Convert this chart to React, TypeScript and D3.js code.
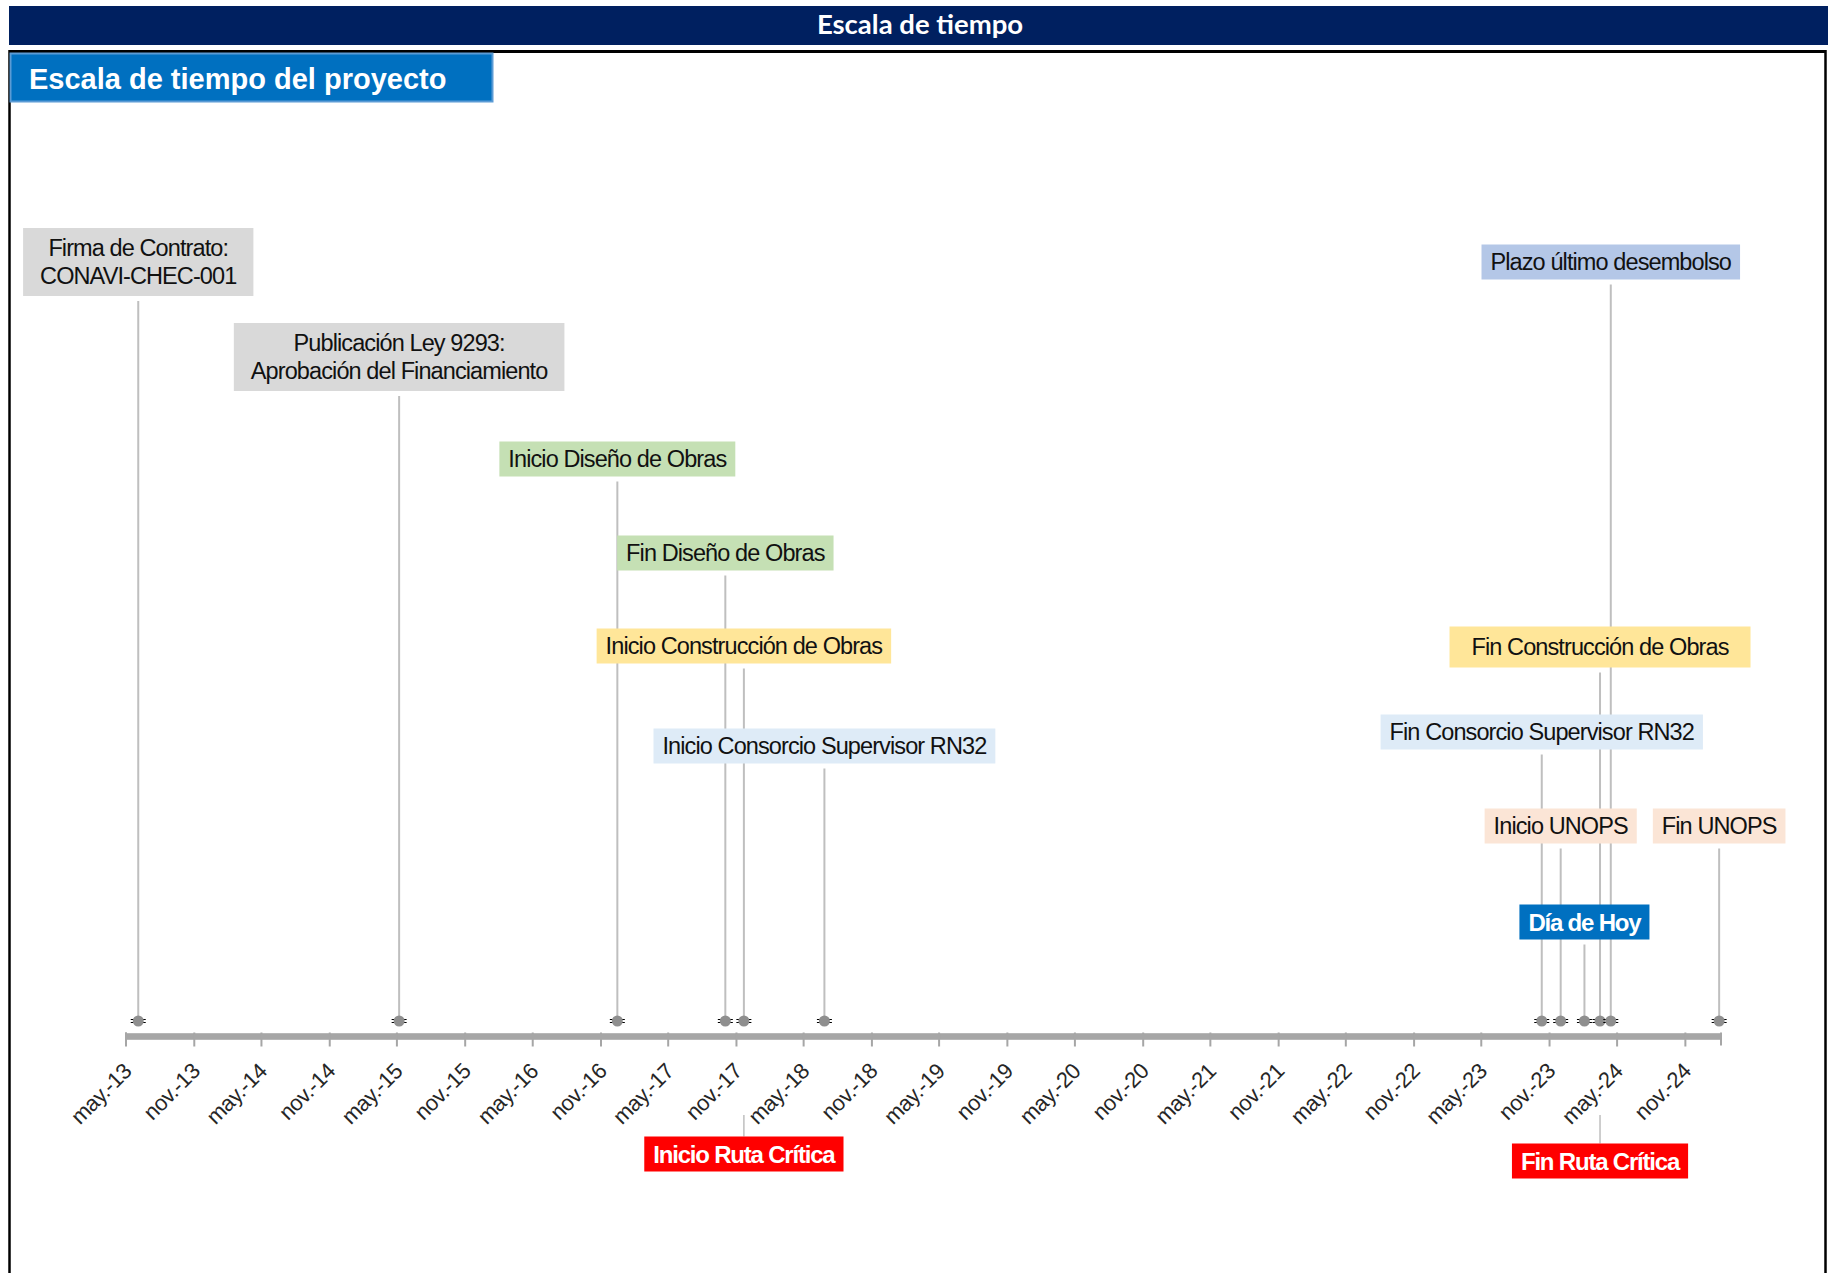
import React from "react";
import * as d3 from "d3";

const W = 1828;
const H = 1273;

// ---- data ----
const eventLabels: string[][] = [
  ["Firma de Contrato:", "CONAVI-CHEC-001"],
  ["Publicación Ley 9293:", "Aprobación del Financiamiento"],
  ["Inicio Diseño de Obras"],
  ["Fin Diseño de Obras"],
  ["Inicio Construcción de Obras"],
  ["Inicio Consorcio Supervisor RN32"],
  ["Fin Consorcio Supervisor RN32"],
  ["Inicio UNOPS"],
  ["Día de Hoy"],
  ["Fin Construcción de Obras"],
  ["Plazo último desembolso"],
  ["Fin UNOPS"],
  ["Inicio Ruta Crítica"],
  ["Fin Ruta Crítica"],
];
const eventDates: string[] = [
  "2013-06-03",
  "2015-05-07",
  "2016-12-15",
  "2017-10-02",
  "2017-11-21",
  "2018-06-26",
  "2023-10-11",
  "2023-12-01",
  "2024-02-03",
  "2024-03-16",
  "2024-04-14",
  "2025-01-31",
  "2017-11-21",
  "2024-03-16",
];
const eventHeights: number[] = [75.9, 66.4, 56.2, 46.8, 37.5, 27.5, 28.9, 19.5, 9.9, 37.4, 75.9, 19.5, -13.3, -14];
const eventGroups: string[] = [
  "hito", "hito", "diseno", "diseno", "construccion", "supervision", "supervision",
  "unops", "hoy", "construccion", "desembolso", "unops", "ruta", "ruta",
];
const tickLabels: string[] = [
  "may.-13", "nov.-13", "may.-14", "nov.-14", "may.-15", "nov.-15", "may.-16", "nov.-16",
  "may.-17", "nov.-17", "may.-18", "nov.-18", "may.-19", "nov.-19", "may.-20", "nov.-20",
  "may.-21", "nov.-21", "may.-22", "nov.-22", "may.-23", "nov.-23", "may.-24", "nov.-24",
];
const axisStart = "2013-05-01";
const axisEnd = "2025-02-05";

// ---- styles ----
const groupStyle: Record<string, { fill: string; color: string; bold: boolean }> = {
  hito: { fill: "#D9D9D9", color: "#111", bold: false },
  diseno: { fill: "#C5E0B4", color: "#111", bold: false },
  construccion: { fill: "#FFE699", color: "#111", bold: false },
  supervision: { fill: "#DEEBF7", color: "#111", bold: false },
  unops: { fill: "#FBE5D6", color: "#111", bold: false },
  desembolso: { fill: "#B4C7E7", color: "#111", bold: false },
  hoy: { fill: "#0070C0", color: "#fff", bold: true },
  ruta: { fill: "#FF0000", color: "#fff", bold: true },
};

const parse = d3.timeParse("%Y-%m-%d");

let _ctx: CanvasRenderingContext2D | null = null;
function measure(text: string, font: string, ls: number) {
  if (!_ctx) _ctx = document.createElement("canvas").getContext("2d");
  if (!_ctx) return text.length * 11;
  _ctx.font = font;
  return _ctx.measureText(text).width + ls * text.length;
}

export default function App() {
  const axisY = 1036.5;
  const markerY = 1021;
  const x = d3
    .scaleTime()
    .domain([parse(axisStart)!, parse(axisEnd)!])
    .range([126, 1721]);
  const y = d3.scaleLinear().domain([0, 10]).range([markerY, markerY - 100]);

  const tickDates = d3.timeMonth.range(parse("2013-05-01")!, parse("2024-11-02")!, 6);

  const fontFamily = "'Liberation Sans', Arial, sans-serif";

  const events = eventLabels.map((lines, i) => {
    const g = groupStyle[eventGroups[i]];
    const fs = g.bold ? 24 : 23.5;
    const ls = g.bold ? -1.2 : -0.9;
    const font = `${g.bold ? "bold " : ""}${fs}px 'Liberation Sans'`;
    const tw = Math.max(...lines.map((l) => measure(l, font, ls)));
    const isWide = eventLabels[i][0] === "Fin Construcción de Obras";
    const padX = isWide ? 22 : lines.length > 1 ? 17 : 9;
    const bw = tw + padX * 2;
    const bh = lines.length > 1 ? 68 : isWide ? 41 : 35;
    const cx = x(parse(eventDates[i])!);
    const cy = y(eventHeights[i]);
    return { lines, g, fs, ls, bw, bh, cx, cy, h: eventHeights[i] };
  });

  return (
    <svg
      width={W}
      height={H}
      style={{ position: "absolute", left: 0, top: 0, background: "#fff" }}
      fontFamily={fontFamily}
    >
      {/* header */}
      <rect x={9} y={6} width={W - 9} height={39} fill="#002060" />
      <text
        x={920}
        y={34}
        textAnchor="middle"
        fill="#fff"
        fontFamily="Lato, 'Open Sans', sans-serif"
        fontWeight="bold"
        fontSize={27.5}
      >
        Escala de tiempo
      </text>

      {/* chart frame */}
      <line x1={9} x2={1826} y1={51.5} y2={51.5} stroke="#000" strokeWidth={3} />
      <line x1={9.5} x2={9.5} y1={50} y2={H} stroke="#000" strokeWidth={2.5} />
      <line x1={1825.5} x2={1825.5} y1={50} y2={H} stroke="#000" strokeWidth={2.5} />

      {/* title box */}
      <rect x={10.5} y={53.5} width={482} height={48} fill="#0070C0" stroke="#5B9BD5" strokeWidth={2} />
      <text x={29} y={89} fill="#fff" fontWeight="bold" fontSize={29}>
        Escala de tiempo del proyecto
      </text>

      {/* stems */}
      {events.map((e, i) => {
        if (e.h >= 0) {
          const top = e.cy + e.bh / 2 + 5;
          return (
            <line key={"s" + i} x1={e.cx} x2={e.cx} y1={top} y2={markerY} stroke="#BFBFBF" strokeWidth={2} />
          );
        }
        const boxTop = e.cy - e.bh / 2;
        return (
          <g key={"s" + i}>
            <line x1={e.cx} x2={e.cx} y1={axisY} y2={y(-1.8)} stroke="#BFBFBF" strokeWidth={1.5} />
            <line x1={e.cx} x2={e.cx} y1={y(-9.4)} y2={boxTop} stroke="#BFBFBF" strokeWidth={1.5} />
          </g>
        );
      })}

      {/* axis */}
      <rect x={x.range()[0]} y={axisY - 3.3} width={x.range()[1] - x.range()[0]} height={6.6} fill="#A6A6A6" />
      {[x.range()[0], x.range()[1]].map((v, i) => (
        <line key={"cap" + i} x1={v} x2={v} y1={axisY - 4} y2={axisY + 9} stroke="#A6A6A6" strokeWidth={2} />
      ))}
      {tickDates.map((d, i) => (
        <g key={"t" + i}>
          <line x1={x(d)} x2={x(d)} y1={axisY - 4} y2={axisY + 10} stroke="#A6A6A6" strokeWidth={2} />
          <text
            transform={`translate(${x(d) + 7},${axisY + 36}) rotate(-45)`}
            textAnchor="end"
            fontSize={22}
            letterSpacing={-0.4}
            fill="#262626"
          >
            {tickLabels[i]}
          </text>
        </g>
      ))}

      {/* markers */}
      {events
        .filter((e) => e.h >= 0)
        .map((e, i) => (
          <g key={"m" + i}>
            <line x1={e.cx - 7.5} x2={e.cx - 3} y1={markerY - 1.5} y2={markerY - 1.5} stroke="#000" strokeWidth={1} />
            <line x1={e.cx - 7.5} x2={e.cx - 3} y1={markerY + 1.5} y2={markerY + 1.5} stroke="#000" strokeWidth={1} />
            <line x1={e.cx + 3} x2={e.cx + 7.5} y1={markerY - 1.5} y2={markerY - 1.5} stroke="#000" strokeWidth={1} />
            <line x1={e.cx + 3} x2={e.cx + 7.5} y1={markerY + 1.5} y2={markerY + 1.5} stroke="#000" strokeWidth={1} />
            <circle cx={e.cx} cy={markerY} r={5.5} fill="#8F8F8F" />
          </g>
        ))}

      {/* label boxes */}
      {events.map((e, i) => {
        const lh = 28;
        const n = e.lines.length;
        return (
          <g key={"b" + i}>
            <rect x={e.cx - e.bw / 2} y={e.cy - e.bh / 2} width={e.bw} height={e.bh} fill={e.g.fill} />
            {e.lines.map((l, j) => (
              <text
                key={j}
                x={e.cx}
                y={e.cy + (j - (n - 1) / 2) * lh}
                dy="0.36em"
                textAnchor="middle"
                fontSize={e.fs}
                letterSpacing={e.ls}
                fontWeight={e.g.bold ? "bold" : "normal"}
                fill={e.g.color}
              >
                {l}
              </text>
            ))}
          </g>
        );
      })}
    </svg>
  );
}
